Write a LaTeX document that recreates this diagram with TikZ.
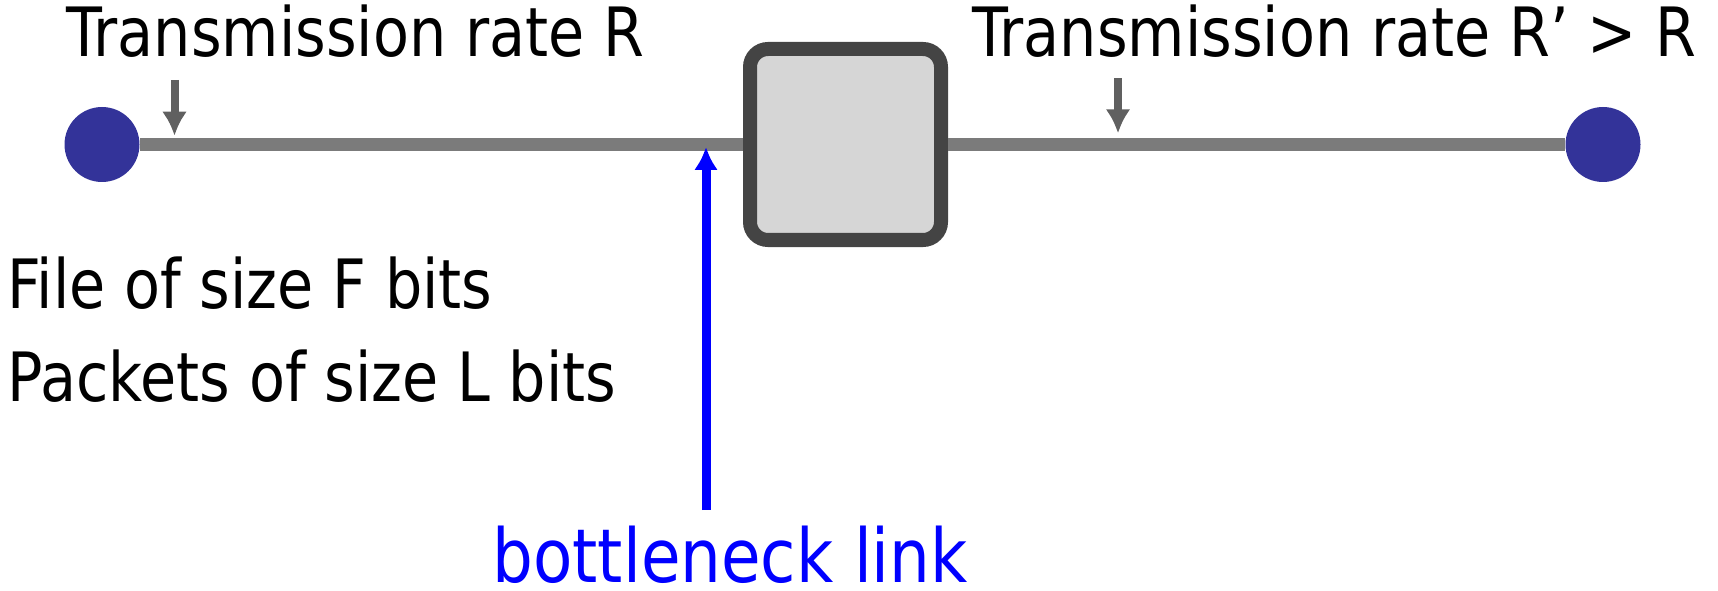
\documentclass[tikz,border=0pt]{standalone}
\usepackage{fontspec}
\setmainfont{DejaVu Sans}[FakeStretch=0.865]
\usetikzlibrary{arrows.meta}
\definecolor{hostblue}{RGB}{51,51,153}
\definecolor{linkgray}{RGB}{123,123,123}
\definecolor{arrowgray}{RGB}{96,96,96}
\definecolor{routerdraw}{RGB}{68,68,68}
\definecolor{routerfill}{RGB}{214,214,214}
\definecolor{bnblue}{RGB}{0,0,255}

\begin{document}
\begin{tikzpicture}[x=0.5pt,y=0.5pt,
    host/.style={circle,fill=hostblue,inner sep=0pt,minimum size=37.5pt},
    router/.style={draw=routerdraw,fill=routerfill,line width=7pt,
      rounded corners=9pt,minimum size=95.5pt,inner sep=0pt},
    link/.style={draw=linkgray,line width=6.5pt},
    ratearrow/.style={draw=arrowgray,line width=4pt,
      -{Latex[length=12pt,width=12.5pt]}},
    bnarrow/.style={draw=bnblue,line width=4.5pt,
      -{Latex[length=11.5pt,width=12pt]}},
    txt/.style={anchor=base west,inner sep=0pt,
      font=\fontsize{34}{40}\selectfont}]
    % Frame
    \useasboundingbox (0,0) rectangle (1718,590);
    % Hosts and router
    \node[host] (hl) at (102,445.5) {};
    \node[host] (hr) at (1603,445.5) {};
    \node[router] (rt) at (845.5,445.5) {};
    % Links
    \draw[link] (hl) -- (rt);
    \draw[link] (rt) -- (hr);
    % Rate labels
    \node[txt] (rateL) at (66,533.3) {Transmission rate R};
    \node[txt] (rateR) at (972,533.3) {Transmission rate R’ > R};
    \coordinate (raL) at (174.5,510);
    \coordinate (rbL) at (174.5,454.3);
    \coordinate (raR) at (1118,511.7);
    \coordinate (rbR) at (1118,456.7);
    \draw[ratearrow] (raL) -- (rbL);
    \draw[ratearrow] (raR) -- (rbR);
    % File and packets
    \node[txt] (file) at (7,282) {File of size F bits};
    \node[txt] (pkts) at (7,188.3) {Packets of size L bits};
    % Bottleneck
    \node[txt,text=bnblue,
      font=\fontsize{37.2}{42}\selectfont] (bn) at (492,8) {bottleneck link};
    \coordinate (bnA) at (706,80);
    \coordinate (bnB) at (706,443);
    \draw[bnarrow] (bnA) -- (bnB);
\end{tikzpicture}
\end{document}
